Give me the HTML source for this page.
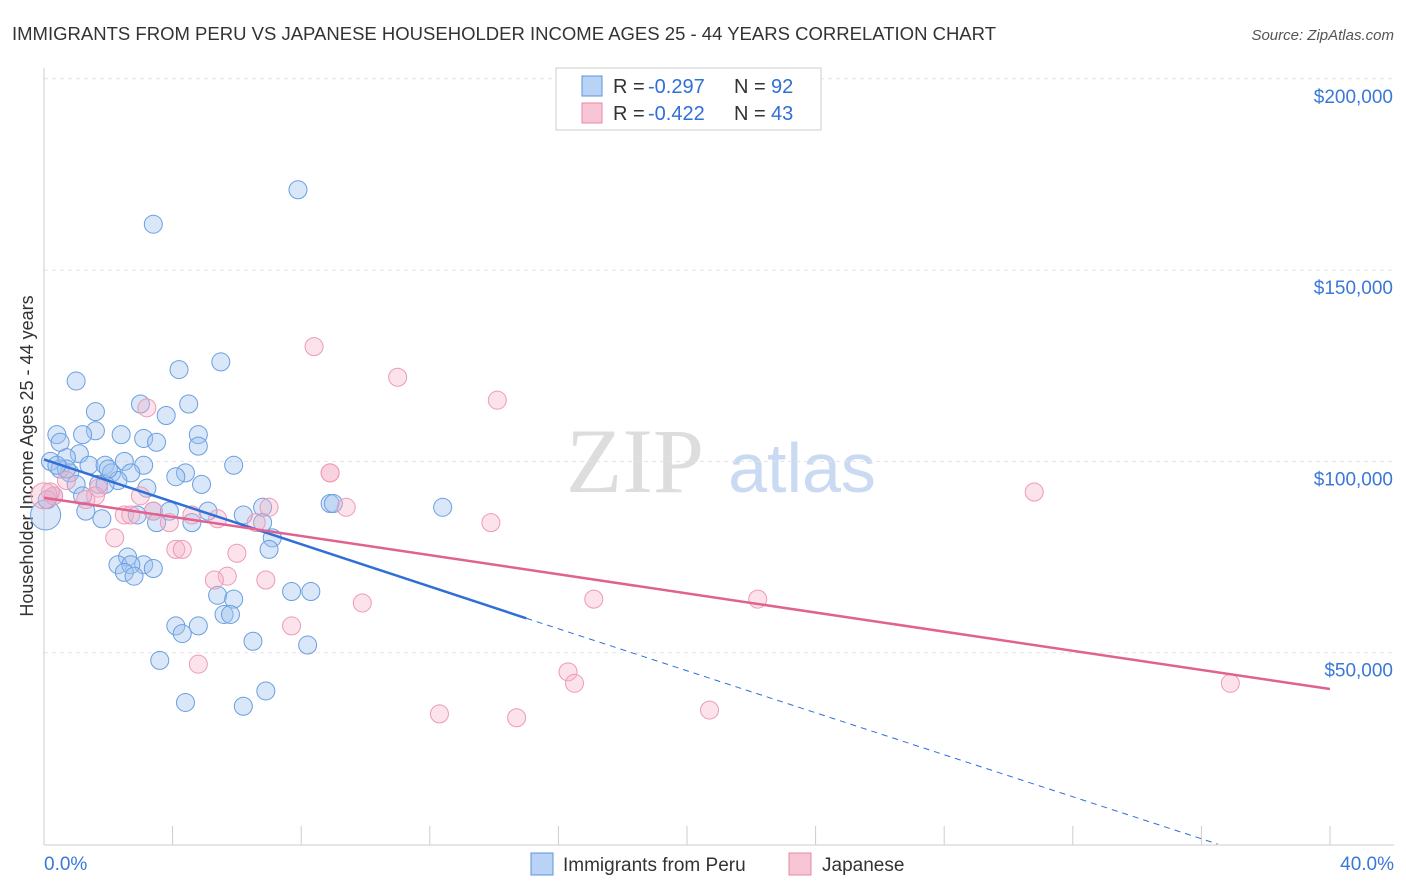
<!DOCTYPE html>
<html><head><meta charset="utf-8"><style>
body{margin:0;background:#fff;font-family:"Liberation Sans",sans-serif;}
svg{display:block}
</style></head><body>
<svg id="c" width="1406" height="892">
<text x="12" y="40" font-size="18.5" fill="#333" textLength="984" lengthAdjust="spacingAndGlyphs">IMMIGRANTS FROM PERU VS JAPANESE HOUSEHOLDER INCOME AGES 25 - 44 YEARS CORRELATION CHART</text>
<text x="1394" y="40" font-size="15" fill="#555" text-anchor="end" font-style="italic">Source: ZipAtlas.com</text>
<text x="33" y="456" font-size="18" fill="#333" text-anchor="middle" transform="rotate(-90 33 456)">Householder Income Ages 25 - 44 years</text>
<g><text x="635" y="492" font-size="92" fill="#ddd" font-family="Liberation Serif" text-anchor="middle">ZIP</text><text x="802" y="492" font-size="70" fill="#c9daf2" text-anchor="middle">atlas</text></g>
<g id="grid"></g><g id="pts"></g><g id="lines"></g>
<g>
<rect x="556" y="68" width="265" height="62" fill="#fff" stroke="#ccc"/>
<rect x="582" y="76" width="20" height="20" fill="#b8d3f5" stroke="#5b93dc"/>
<rect x="582" y="103" width="20" height="20" fill="#f8c5d5" stroke="#e889a8"/>
<text y="93" font-size="20" fill="#333"><tspan x="613">R =</tspan><tspan x="648" fill="#2f6fd6">-0.297</tspan><tspan x="734">N =</tspan><tspan x="771" fill="#2f6fd6">92</tspan></text>
<text y="120" font-size="20" fill="#333"><tspan x="613">R =</tspan><tspan x="648" fill="#2f6fd6">-0.422</tspan><tspan x="734">N =</tspan><tspan x="771" fill="#2f6fd6">43</tspan></text>
</g>
<g>
<rect x="531" y="853" width="22" height="22" fill="#b8d3f5" stroke="#5b93dc"/>
<text x="563" y="871" font-size="19" fill="#333">Immigrants from Peru</text>
<rect x="789" y="853" width="22" height="22" fill="#f8c5d5" stroke="#e889a8"/>
<text x="822" y="871" font-size="19" fill="#333">Japanese</text>
</g>
</svg>
<script>
const yTicks=[50000,100000,150000,200000];
const yTickLabels=["$50,000","$100,000","$150,000","$200,000"];
const peruX=[7.9,3.4,5.5,4.2,1.0,3.0,4.5,1.6,3.8,1.6,0.4,2.4,1.2,0.5,3.1,4.8,3.5,4.8,1.1,0.2,0.7,5.9,2.5,3.1,1.4,1.9,4.4,4.1,2.1,2.7,0.5,0.8,2.3,1.7,1.9,1.0,4.9,3.2,1.2,6.8,8.9,9.0,12.4,1.3,3.4,5.1,2.9,1.8,6.2,3.9,6.8,3.5,4.6,7.1,7.0,2.6,2.3,3.1,2.7,2.5,3.4,2.8,7.7,8.3,5.4,5.9,5.6,5.8,4.1,4.8,4.3,6.5,8.2,3.6,6.9,4.4,6.2,0.05,0.3,0.1,0.7,2.0,0.4];
const peruY=[171,162,126,124,121,115,115,113,112,108,107,107,107,105,106,107,105,104,102,100,101,99,100,99,99,99,97,96,97,97,98,97,95,94,94,94,94,93,91,88,89,89,88,87,87,87,86,85,86,87,84,84,84,80,77,75,73,73,73,71,72,70,66,66,65,64,60,60,57,57,55,53,52,48,40,37,36,86,91,90,98,98,99];
const japX=[8.4,11.0,14.1,3.2,8.9,8.9,30.8,0.3,0.7,1.7,3.0,1.6,1.3,7.0,9.4,3.4,2.5,2.7,4.6,5.4,6.6,3.9,13.9,2.2,4.1,4.3,6.0,5.7,5.3,6.9,17.1,22.2,9.9,7.7,4.8,16.3,16.5,36.9,12.3,14.7,20.7,0.2,0.0];
const japY=[130,122,116,114,97,97,92,91,95,93,91,91,90,88,88,87,86,86,86,85,84,84,84,80,77,77,76,70,69,69,64,64,63,57,47,45,42,42,34,33,35,92,91];
const peruR=[0,0,0,0,0,0,0,0,0,0,0,0,0,0,0,0,0,0,0,0,0,0,0,0,0,0,0,0,0,0,0,0,0,0,0,0,0,0,0,0,0,0,0,0,0,0,0,0,0,0,0,0,0,0,0,0,0,0,0,0,0,0,0,0,0,0,0,0,0,0,0,0,0,0,0,0,0,1,0,0,0,0,0];
const NS="http://www.w3.org/2000/svg";
const X=p=>44+p*32.15, Y=v=>844-v/50000*191.3;
function mk(t,a,p){const e=document.createElementNS(NS,t);for(const k in a)e.setAttribute(k,a[k]);p.appendChild(e);return e;}
const g=document.getElementById('grid');
yTicks.forEach((v,i)=>{
 const l=mk('line',{x1:44,x2:1394,y1:Y(v),y2:Y(v),stroke:'#e3e3e3','stroke-dasharray':'4,4'},g);
 
 
 const t=mk('text',{x:1393,y:Y(v)+24,'font-size':19,fill:'#3a78d8','text-anchor':'end'},g);t.textContent=yTickLabels[i];
 
 
});
mk('line',{x1:44,x2:44,y1:68,y2:845,stroke:'#ccc'},g);
mk('line',{x1:44,x2:1394,y1:845,y2:845,stroke:'#ccc'},g);
for(let i=1;i<=10;i++){mk('line',{x1:X(i*4),x2:X(i*4),y1:826,y2:845,stroke:'#ccc'},g);}
let t=mk('text',{x:44,y:870,'font-size':19,fill:'#3a78d8'},g);t.textContent='0.0%';

t=mk('text',{x:1394,y:870,'font-size':19,fill:'#3a78d8','text-anchor':'end'},g);t.textContent='40.0%';

const P=document.getElementById('pts');
peruX.forEach((x,i)=>{const c=mk('circle',{cx:X(x),cy:Y(peruY[i]*1000),r:peruR[i]?15:9,fill:'rgba(160,196,240,0.4)',stroke:'#6a9fe0','stroke-width':1},P);
 
 });
japX.forEach((x,i)=>{const c=mk('circle',{cx:X(x),cy:Y(japY[i]*1000),r:i==42?13:9,fill:'rgba(245,175,198,0.35)',stroke:'#ec9ab5','stroke-width':1},P);
 
 });
const L=document.getElementById('lines');
let e=mk('line',{x1:X(0),y1:Y(100500),x2:X(15.0),y2:Y(59000),stroke:'#2f6fd6','stroke-width':2.5},L);

e=mk('line',{x1:X(15.0),y1:Y(59000),x2:X(36.5),y2:Y(0),stroke:'#2f6fd6','stroke-width':1,'stroke-dasharray':'6,5'},L);

e=mk('line',{x1:X(0),y1:Y(90500),x2:X(40),y2:Y(40500),stroke:'#e0628f','stroke-width':2.5},L);

</script>
</body></html>
